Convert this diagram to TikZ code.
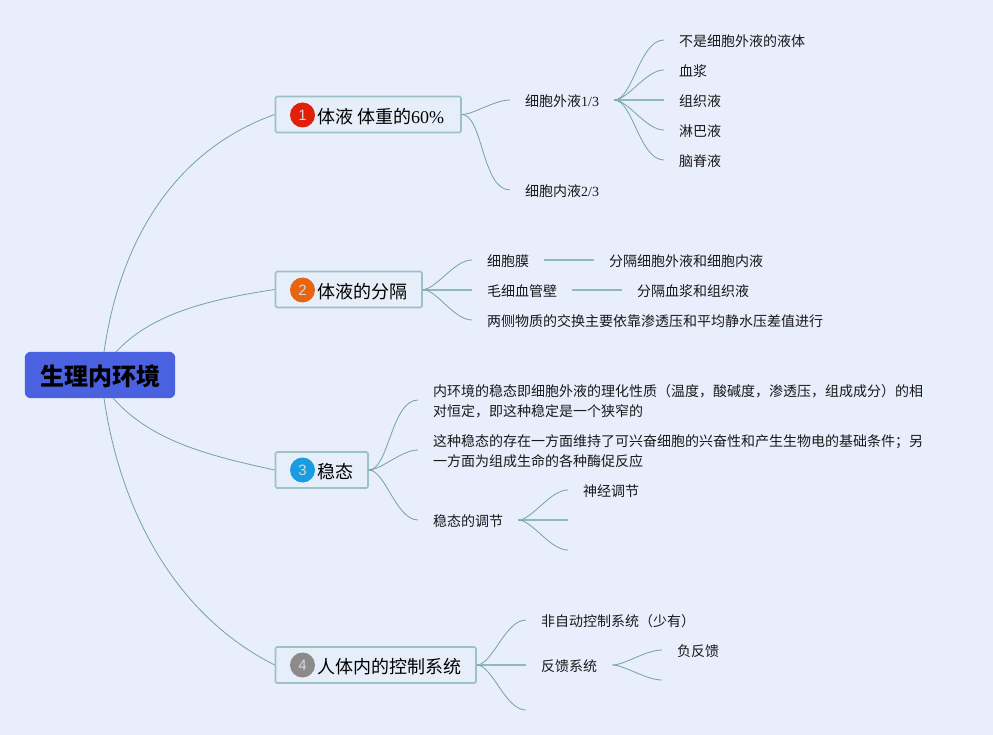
\documentclass[tikz,border=0pt]{standalone}
\usepackage{fontspec}
\setmainfont{Liberation Serif}
\newfontfamily\cjk{Noto Sans CJK SC}
\newfontfamily\digitfont{Liberation Sans}
\definecolor{pagebg}{HTML}{E8EEFC}
\definecolor{boxfill}{HTML}{E6EEFA}
\definecolor{boxline}{HTML}{9CC1C6}
\definecolor{rootfill}{HTML}{4A61E0}
\definecolor{linkc}{HTML}{72A2A6}
\definecolor{stemc}{HTML}{8FBABB}
\tikzset{
  x=1pt,y=-1pt,
  leaf/.style={anchor=west,inner xsep=15pt,inner ysep=2pt,font=\fontsize{14}{20}\selectfont,align=left,text=black!90},
  mainbox/.style={draw=boxline,fill=boxfill,line width=1.6pt,rounded corners=1.5pt,minimum height=36pt,anchor=west,inner xsep=0pt,inner ysep=0pt,font=\fontsize{18}{20}\selectfont},
  rootbox/.style={minimum width=150pt,minimum height=46pt,inner sep=0pt},
  badge/.style={circle,minimum size=25pt,inner sep=0pt,text=white!85!black,font=\fontsize{15}{15}\digitfont\selectfont},
  conn/.style={draw=linkc,line width=0.8pt},
  stem/.style={draw=stemc,line width=1.3pt},
  fan/.style={conn,out=0,in=180,out looseness=0.6,in looseness=0.8}
}
\begin{document}
\begin{tikzpicture}
\useasboundingbox[fill=pagebg] (0,0) rectangle (993,735);
% root
\node[rootbox] (root) at (100,375) {};
\fill[rootfill,rounded corners=6pt] (root.south west) rectangle (root.north east);
\node[inner sep=0pt,font=\fontsize{24}{26}\cjk\bfseries\selectfont] (roott) at (100.5,376) {生理内环境};
\coordinate (ra) at (104,352);
\coordinate (rb) at (116,352);
\coordinate (rc) at (113,398);
\coordinate (rd) at (104,398);
% main topics
\node[mainbox,minimum width=185.5pt] (m1) at (274.7,114.5) {};
\node[mainbox,minimum width=146.5pt] (m2) at (274.7,289.5) {};
\node[mainbox,minimum width=92.5pt] (m3) at (274.7,470) {};
\node[mainbox,minimum width=200.5pt] (m4) at (274.7,665) {};
\node[badge,fill={rgb,255:red,224;green,32;blue,11}] (b1) at (302.5,115) {1};
\node[badge,fill={rgb,255:red,232;green,101;blue,15}] (b2) at (302.5,290) {2};
\node[badge,fill={rgb,255:red,26;green,156;blue,224}] (b3) at (302.5,470) {3};
\node[badge,fill={rgb,255:red,140;green,138;blue,138}] (b4) at (302.5,665) {4};
\node[anchor=west,inner sep=0pt,font=\fontsize{18}{20}\selectfont] (t1) at (317,116.5) {{\cjk 体液 体重的}60\%};
\node[anchor=west,inner sep=0pt,font=\fontsize{18}{20}\cjk\selectfont] (t2) at (317,291.5) {体液的分隔};
\node[anchor=west,inner sep=0pt,font=\fontsize{18}{20}\cjk\selectfont] (t3) at (317,471.5) {稳态};
\node[anchor=west,inner sep=0pt,font=\fontsize{18}{20}\cjk\selectfont] (t4) at (317,666.5) {人体内的控制系统};
% branch 1
\node[leaf] (a) at (510,101) {{\cjk 细胞外液}1/3};
\node[leaf] (b) at (510,191) {{\cjk 细胞内液}2/3};
\node[leaf] (a1) at (664,41) {\cjk 不是细胞外液的液体};
\node[leaf] (a2) at (664,71) {\cjk 血浆};
\node[leaf] (a3) at (664,101) {\cjk 组织液};
\node[leaf] (a4) at (664,131) {\cjk 淋巴液};
\node[leaf] (a5) at (664,161) {\cjk 脑脊液};
% branch 2
\node[leaf] (c) at (472,261) {\cjk 细胞膜};
\node[leaf] (d) at (472,291) {\cjk 毛细血管壁};
\node[leaf] (e) at (472,321) {\cjk 两侧物质的交换主要依靠渗透压和平均静水压差值进行};
\node[leaf] (c1) at (594,261) {\cjk 分隔细胞外液和细胞内液};
\node[leaf] (d1) at (622,291) {\cjk 分隔血浆和组织液};
% branch 3
\node[leaf] (f) at (418,401) {\cjk 内环境的稳态即细胞外液的理化性质（温度，酸碱度，渗透压，组成成分）的相\\\cjk 对恒定，即这种稳定是一个狭窄的};
\node[leaf] (g) at (418,451) {\cjk 这种稳态的存在一方面维持了可兴奋细胞的兴奋性和产生生物电的基础条件；另\\\cjk 一方面为组成生命的各种酶促反应};
\node[leaf] (h) at (418,521) {\cjk 稳态的调节};
\node[leaf] (h1) at (568,491) {\cjk 神经调节};
\coordinate (h2) at (568,521);
\coordinate (h3) at (568,551);
% branch 4
\node[leaf] (i) at (526,621) {\cjk 非自动控制系统（少有）};
\node[leaf] (j) at (526,666) {\cjk 反馈系统};
\coordinate (k) at (526,711);
\node[leaf] (j1) at (662,651) {\cjk 负反馈};
\coordinate (j2) at (662,681);
% connectors
\draw[conn] (ra) .. controls (120,240) and (175,150) .. (m1.west);
\draw[conn] (rb) .. controls (150,315) and (205,300) .. (m2.west);
\draw[conn] (rc) .. controls (150,440) and (205,455) .. (m3.west);
\draw[conn] (rd) .. controls (120,510) and (175,615) .. (m4.west);
\draw[fan] (m1.east) to ([yshift=1pt]a.west);
\draw[fan] (m1.east) to ([yshift=1pt]b.west);
\draw[fan] ([yshift=1pt]a.east) to ([yshift=1pt]a1.west);
\draw[fan] ([yshift=1pt]a.east) to ([yshift=1pt]a2.west);
\draw[stem] ([yshift=1pt]a.east) -- ([yshift=1pt]a3.west);
\draw[fan] ([yshift=1pt]a.east) to ([yshift=1pt]a4.west);
\draw[fan] ([yshift=1pt]a.east) to ([yshift=1pt]a5.west);
\draw[fan] (m2.east) to ([yshift=1pt]c.west);
\draw[stem] ([yshift=-0.5pt]m2.east) -- ([yshift=1pt]d.west);
\draw[fan] (m2.east) to ([yshift=1pt]e.west);
\draw[stem] ([yshift=1pt]c.east) -- ([yshift=1pt]c1.west);
\draw[stem] ([yshift=1pt]d.east) -- ([yshift=1pt]d1.west);
\draw[fan] (m3.east) to ([yshift=1pt]f.west);
\draw[fan] (m3.east) to ([yshift=1pt]g.west);
\draw[fan] (m3.east) to ([yshift=1pt]h.west);
\draw[fan] ([yshift=1pt]h.east) to ([yshift=1pt]h1.west);
\draw[stem] ([yshift=1pt]h.east) -- ([yshift=1pt]h2);
\draw[fan] ([yshift=1pt]h.east) to ([yshift=1pt]h3);
\draw[fan] (m4.east) to ([yshift=1pt]i.west);
\draw[stem] (m4.east) -- ([yshift=1pt]j.west);
\draw[fan] (m4.east) to ([yshift=1pt]k);
\draw[fan] ([yshift=1pt]j.east) to ([yshift=1pt]j1.west);
\draw[fan] ([yshift=1pt]j.east) to ([yshift=1pt]j2);
\end{tikzpicture}
\end{document}
